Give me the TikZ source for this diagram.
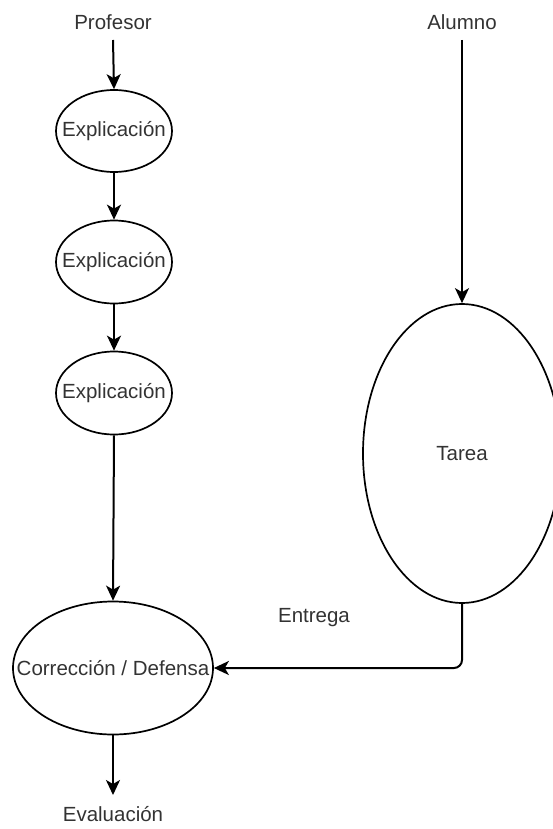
\documentclass[tikz,border=0pt]{standalone}
\usepackage{fontspec}
\setmainfont{Liberation Sans}
\usetikzlibrary{shapes.geometric,arrows.meta}
\definecolor{txt}{HTML}{333333}
\newcommand{\ctxt}[1]{\makebox[0pt][c]{#1}}
\begin{document}
\begin{tikzpicture}[x=1pt,y=-1pt,
  every node/.style={font=\fontsize{20.5}{24}\selectfont, text=txt},
  oval/.style={draw, ellipse, line width=1.7pt, inner sep=0pt},
  arr/.style={line width=2pt, -{Stealth[length=15pt,width=14pt,inset=4pt]}},
  lbl/.style={inner sep=0pt}]
\useasboundingbox (0,0) rectangle (552,829);
\node[lbl] (prof) at (113,22) {Profesor};
\node[lbl] (alum) at (462,22) {Alumno};
\node[oval, minimum width=116pt, minimum height=82pt] (e1) at (114,131) {\ctxt{Explicación}};
\node[oval, minimum width=116pt, minimum height=83pt] (e2) at (114,262) {\ctxt{Explicación}};
\node[oval, minimum width=116pt, minimum height=83pt] (e3) at (114,393) {\ctxt{Explicación}};
\node[oval, minimum width=200pt, minimum height=133pt] (cd) at (113,668) {\ctxt{Corrección / Defensa}};
\node[oval, minimum width=198pt, minimum height=299pt] (tar) at (462,453.5) {\ctxt{Tarea}};
\node[lbl] (eval) at (113,814) {Evaluación};
\node[lbl] (ent) at (314,618) {Entrega};
\coordinate (ps) at (113,40);
\coordinate (as) at (462,40);
\coordinate (es) at (113,795);
\draw[arr] (ps) -- (e1.north);
\draw[arr] (e1.south) -- (e2.north);
\draw[arr] (e2.south) -- (e3.north);
\draw[arr] (e3.south) -- (cd.north);
\draw[arr] (as) -- (tar.north);
\draw[arr] (cd.south) -- (es);
\draw[arr, rounded corners=8pt] (tar.south) |- (cd.east);
\end{tikzpicture}
\end{document}
